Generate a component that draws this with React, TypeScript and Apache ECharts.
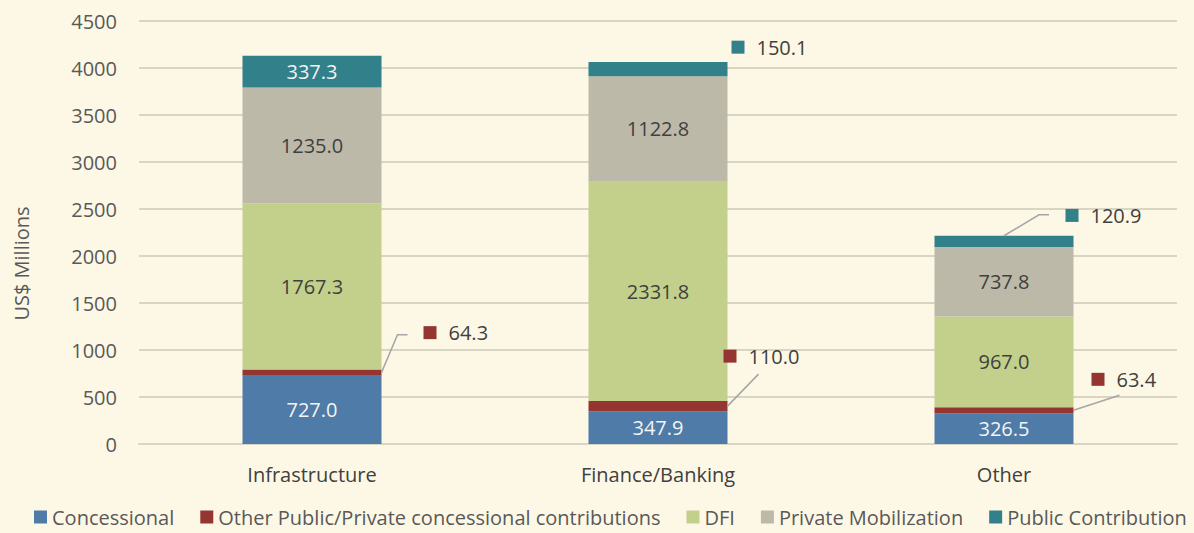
import React, { useEffect, useRef } from "react";
import * as echarts from "echarts";

const categories = ["Infrastructure", "Finance/Banking", "Other"];
const concessional = [727.0, 347.9, 326.5];
const otherPublic = [64.3, 110.0, 63.4];
const dfi = [1767.3, 2331.8, 967.0];
const privateMob = [1235.0, 1122.8, 737.8];
const publicContrib = [337.3, 150.1, 120.9];

const seriesNames = [
  "Concessional",
  "Other Public/Private concessional contributions",
  "DFI",
  "Private Mobilization",
  "Public Contribution",
];
const colors = ["#4E7BA7", "#943532", "#C2D08B", "#BDB9A9", "#31808A"];
const labelColors = ["#F4F4F4", "#404040", "#404040", "#404040", "#F4F4F4"];

// callout labels placed outside the bar, offsets from default 'right' position
const outside: Record<number, (number[] | null)[]> = {
  1: [[37, -40], [-9, -50], [13, -31]],
  4: [null, [-1, -22], [-13, -26]],
};

// leader lines: [seriesIndex, dataIndex, anchor ('right' | 'top'), relative points]
const leaders: [number, number, string, number[][]][] = [
  [1, 0, "right", [[16, -38], [26, -38]]],
  [1, 1, "right", [[31, -32]]],
  [1, 2, "right", [[46, -15]]],
  [4, 2, "top", [[35, -21], [45, -21]]],
];

const FONT = "'Open Sans', sans-serif";
const BAR_W = 139;

export default function App() {
  const ref = useRef<HTMLDivElement>(null);
  useEffect(() => {
    const chart = echarts.init(ref.current!, null, { renderer: "svg" });
    const allData = [concessional, otherPublic, dfi, privateMob, publicContrib];
    const series = allData.map((arr, si) => {
      const offs = outside[si];
      return {
        name: seriesNames[si],
        type: "bar",
        stack: "total",
        barWidth: BAR_W,
        itemStyle: { color: colors[si] },
        label: {
          show: si !== 1,
          position: "inside",
          formatter: (p: any) => p.value.toFixed(1),
          color: labelColors[si],
          fontFamily: FONT,
          fontSize: 20,
        },
        labelLayout: (params: any) => {
          const o = offs && offs[params.dataIndex];
          if (!o) return {};
          return { dx: o[0], dy: o[1] };
        },
        data: arr.map((v, i) => {
          const o = offs && offs[i];
          if (!o) {
            if (si === 1) return { value: v, label: { show: false } };
            return v;
          }
          return {
            value: v,
            label: {
              show: true,
              position: "right",
              distance: 5,
              formatter: (p: any) => "{sq|}{t|" + p.value.toFixed(1) + "}",
              rich: {
                sq: { backgroundColor: colors[si], width: 13, height: 13 },
                t: {
                  color: "#404040",
                  fontFamily: FONT,
                  fontSize: 20,
                  padding: [0, 0, 0, 12],
                },
              },
            },
          };
        }),
      };
    });
    chart.setOption({
      animation: false,
      backgroundColor: "#FDF8E5",
      textStyle: { fontFamily: FONT },
      grid: { left: 139, right: 17, top: 21, bottom: 89 },
      legend: {
        bottom: 1,
        left: 34,
        width: 1160,
        padding: [5, 0, 5, 0],
        itemWidth: 13,
        itemHeight: 13,
        itemGap: 26,
        icon: "rect",
        textStyle: { color: "#595959", fontSize: 20, fontFamily: FONT },
        data: seriesNames,
      },
      xAxis: {
        type: "category",
        data: categories,
        axisLine: { lineStyle: { color: "#D9D5C5", width: 2 } },
        axisTick: { show: false },
        axisLabel: { color: "#404040", fontSize: 20, margin: 20, fontFamily: FONT },
      },
      yAxis: {
        type: "value",
        min: 0,
        max: 4500,
        interval: 500,
        name: "US$ Millions",
        nameLocation: "middle",
        nameGap: 108,
        nameTextStyle: { color: "#595959", fontSize: 20, fontFamily: FONT, padding: [0, 62, 0, 0] },
        axisLabel: {
          color: "#595959",
          fontSize: 20,
          margin: 22,
          fontFamily: FONT,
          formatter: (v: number) => String(v),
        },
        splitLine: { lineStyle: { color: "#D9D5C5", width: 2 } },
        axisLine: { show: false },
        axisTick: { show: false },
      },
      series,
    });

    // leader lines computed from the chart's own scales
    const graphics = leaders.map(([si, di, anchor, rel]) => {
      let base = 0;
      for (let k = 0; k < si; k++) base += allData[k][di];
      const v = allData[si][di];
      let start: number[];
      if (anchor === "right") {
        const p = chart.convertToPixel({ seriesIndex: si }, [di, base + v / 2]) as number[];
        start = [p[0] + BAR_W / 2, p[1]];
      } else {
        const p = chart.convertToPixel({ seriesIndex: si }, [di, base + v]) as number[];
        start = [p[0], p[1]];
      }
      const pts = [start, ...rel.map((r) => [start[0] + r[0], start[1] + r[1]])];
      return {
        type: "polyline",
        shape: { points: pts },
        style: { stroke: "#A5A5A5", lineWidth: 1.5, fill: "none" },
        silent: true,
        z: 10,
      };
    });
    chart.setOption({ graphic: graphics });
    return () => chart.dispose();
  }, []);
  return <div ref={ref} style={{ width: 1194, height: 533, position: "absolute", left: 0, top: 0 }} />;
}
